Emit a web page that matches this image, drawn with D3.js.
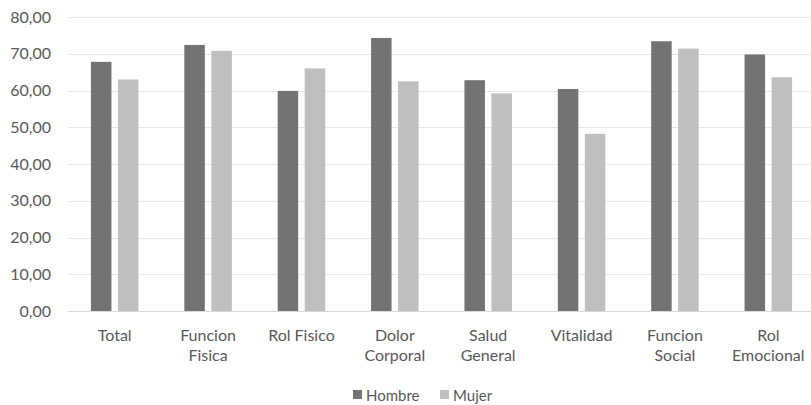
<!DOCTYPE html>
<html lang="es">
<head>
	<meta charset="UTF-8"/>
	<title>Hombre / Mujer</title>
	<script src="https://d3js.org/d3.v7.min.js"></script>
	<style>
		body { margin:0; background:#fff; }
		svg text { font-family: Lato, "Open Sans", sans-serif; fill:#595959; }
	</style>
</head>
<body>
<script>
	// Categories (line breaks as in the original labels)
	var categories = ["Total", "Funcion\nFisica", "Rol Fisico", "Dolor\nCorporal",
	                  "Salud\nGeneral", "Vitalidad", "Funcion\nSocial", "Rol\nEmocional"];
	var hombre = [67.8, 72.4, 59.9, 74.3, 62.8, 60.4, 73.4, 69.8];
	var mujer  = [63.0, 70.8, 66.0, 62.5, 59.2, 48.2, 71.4, 63.6];
	var series = ["Hombre", "Mujer"];
	var colors = ["#737373", "#bfbfbf"];
	var yTicks = [0, 10, 20, 30, 40, 50, 60, 70, 80];

	var w = 811, h = 405;
	var padLeft = 68, padRight = 815, padTop = 17, padBottom = 311;

	var svg = d3.select("body").append("svg")
		.attr("width", w)
		.attr("height", h);

	var xScale = d3.scaleBand()
		.domain(d3.range(categories.length))
		.range([padLeft, padRight]);

	var yScale = d3.scaleLinear()
		.domain([0, 80])
		.range([padBottom, padTop]);

	var fmt = function(v){ return d3.format(".2f")(v).replace(".", ","); };

	// grid lines
	svg.append("g")
		.selectAll("line")
		.data(yTicks)
		.enter()
		.append("line")
		.attr("x1", padLeft)
		.attr("x2", w)
		.attr("y1", function(d){ return Math.round(yScale(d)) + 0.5; })
		.attr("y2", function(d){ return Math.round(yScale(d)) + 0.5; })
		.attr("stroke", function(d){ return d === 0 ? "#d9d9d9" : "#e6e6e6"; })
		.attr("stroke-width", 1);

	// y axis labels
	var yAxis = d3.axisLeft(yScale)
		.tickValues(yTicks)
		.tickFormat(fmt)
		.tickSize(0)
		.tickPadding(17);
	var yg = svg.append("g")
		.attr("transform", "translate(" + padLeft + ",0)")
		.call(yAxis);
	yg.select(".domain").remove();
	yg.attr("font-family", null).attr("font-size", null);
	yg.selectAll("text")
		.style("font-size", "16px");

	// bars
	var barW = 20.5, gap = 6.5;
	[hombre, mujer].forEach(function(vals, s){
		svg.append("g")
			.selectAll("rect")
			.data(vals)
			.enter()
			.append("rect")
			.attr("x", function(d, i){
				var c = xScale(i) + xScale.bandwidth() / 2;
				return s === 0 ? c - gap / 2 - barW : c + gap / 2;
			})
			.attr("y", function(d){ return yScale(d); })
			.attr("width", barW)
			.attr("height", function(d){ return yScale(0) - yScale(d); })
			.attr("fill", colors[s]);
	});

	// category labels
	svg.append("g")
		.selectAll("text")
		.data(categories)
		.enter()
		.append("text")
		.attr("text-anchor", "middle")
		.style("font-size", "16px")
		.attr("transform", function(d, i){
			return "translate(" + (xScale(i) + xScale.bandwidth() / 2) + ",341)";
		})
		.each(function(d){
			var t = d3.select(this);
			d.split("\n").forEach(function(line, k){
				t.append("tspan")
					.attr("x", 0)
					.attr("y", k * 20)
					.text(line);
			});
		});

	// legend (kept just inside the bottom edge)
	var legX = [353, 440];
	var leg = svg.append("g");
	series.forEach(function(name, s){
		leg.append("rect")
			.attr("x", legX[s])
			.attr("y", 390)
			.attr("width", 9)
			.attr("height", 9)
			.attr("fill", colors[s]);
		leg.append("text")
			.attr("x", legX[s] + 13)
			.attr("y", 401)
			.style("font-size", "15px")
			.text(name);
	});
</script>
</body>
</html>
